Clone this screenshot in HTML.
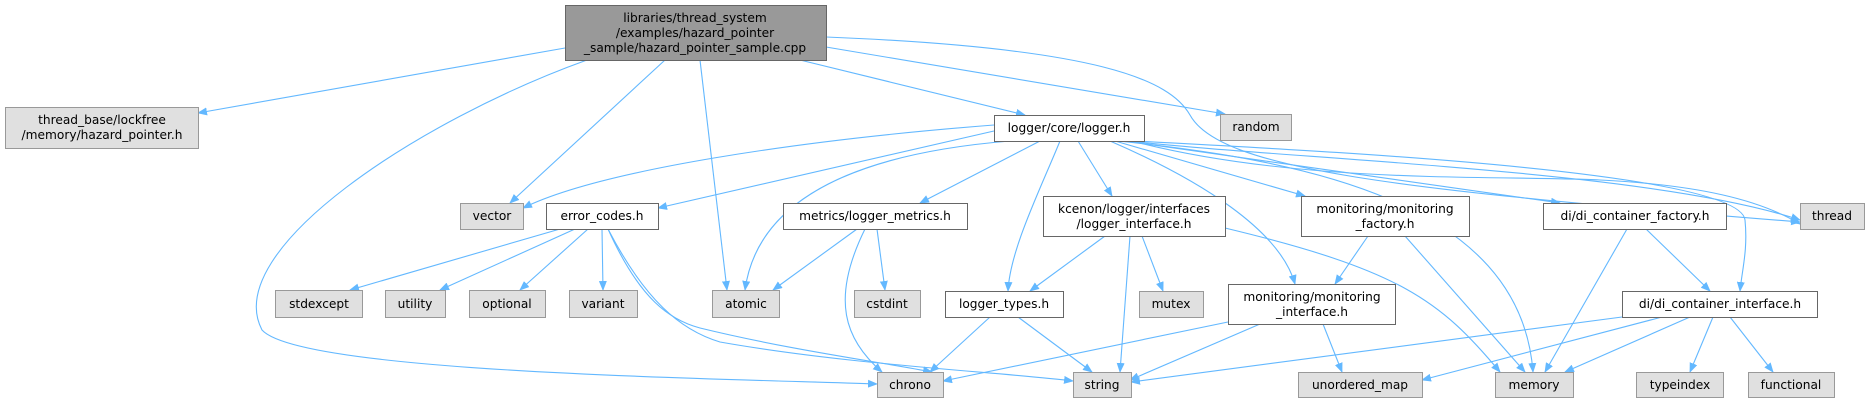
<!DOCTYPE html>
<html><head><meta charset="utf-8"><style>
html,body{margin:0;padding:0;background:#fff;}
svg{display:block;}
text{font-family:"DejaVu Sans","Liberation Sans",sans-serif;font-size:12.2px;fill:#000;text-anchor:middle;}
.e{fill:none;stroke:#63b8ff;stroke-width:1.1;marker-end:url(#a);}
.w{fill:#fff;stroke:#666;stroke-width:1;}
.g{fill:#e0e0e0;stroke:#999;stroke-width:1;}
.r{fill:#999;stroke:#666;stroke-width:1;}
</style></head><body>
<svg width="1869" height="403" viewBox="0 0 1869 403" xmlns="http://www.w3.org/2000/svg">
<defs><marker id="a" markerWidth="10" markerHeight="8" refX="9" refY="4" orient="auto" markerUnits="userSpaceOnUse"><path d="M0,0 L10,4 L0,8 Z" fill="#63b8ff"/></marker></defs>
<path class="e" d="M565,48 L198,113"/>
<path class="e" d="M587,60 C420,120 220,250 262,330 C300,372 700,378 877,384"/>
<path class="e" d="M665,60 L510,203"/>
<path class="e" d="M700,60 L727,290"/>
<path class="e" d="M800,60 L1025,115"/>
<path class="e" d="M826,47 L1225,114"/>
<path class="e" d="M826,37 C1100,48 1170,80 1190,115 C1220,170 1400,190 1800,222"/>
<path class="e" d="M994,125 C800,140 600,170 523,208"/>
<path class="e" d="M994,131 L658,208"/>
<path class="e" d="M1010,141 C900,150 760,180 745,290"/>
<path class="e" d="M1040,141 L920,203"/>
<path class="e" d="M1060,141 C1040,190 1010,250 1008,291"/>
<path class="e" d="M1078,141 L1112,196"/>
<path class="e" d="M1110,141 C1200,180 1280,230 1295,284"/>
<path class="e" d="M1115,141 L1305,196"/>
<path class="e" d="M1118,141 C1300,160 1520,200 1533,372"/>
<path class="e" d="M1125,141 L1560,203"/>
<path class="e" d="M1128,141 C1300,160 1650,170 1800,220"/>
<path class="e" d="M1132,141 C1300,185 1500,175 1600,180 C1700,185 1760,200 1800,224"/>
<path class="e" d="M1135,141 C1300,150 1740,170 1745,220 C1748,250 1742,270 1740,291"/>
<path class="e" d="M560,229 L350,290"/>
<path class="e" d="M575,229 L440,290"/>
<path class="e" d="M588,229 L520,290"/>
<path class="e" d="M602,229 L603,290"/>
<path class="e" d="M608,229 C640,300 670,320 700,328 C790,350 880,362 932,372"/>
<path class="e" d="M608,229 C645,300 680,330 720,342 C850,365 1000,372 1073,381"/>
<path class="e" d="M857,229 L773,290"/>
<path class="e" d="M865,229 C830,300 845,340 882,372"/>
<path class="e" d="M877,229 L885,290"/>
<path class="e" d="M1105,236 L1030,291"/>
<path class="e" d="M1130,236 L1120,372"/>
<path class="e" d="M1142,236 L1163,291"/>
<path class="e" d="M1225,228 C1400,270 1440,300 1500,372"/>
<path class="e" d="M1368,236 L1335,284"/>
<path class="e" d="M1405,236 L1525,372"/>
<path class="e" d="M1627,229 L1545,372"/>
<path class="e" d="M1646,229 L1710,291"/>
<path class="e" d="M990,317 L930,372"/>
<path class="e" d="M1018,317 L1092,372"/>
<path class="e" d="M1228,322 L943,381"/>
<path class="e" d="M1260,324 L1130,380"/>
<path class="e" d="M1323,324 L1342,372"/>
<path class="e" d="M1622,317 L1131,382"/>
<path class="e" d="M1662,317 L1422,380"/>
<path class="e" d="M1690,317 L1565,372"/>
<path class="e" d="M1713,317 L1690,372"/>
<path class="e" d="M1730,317 L1773,372"/>
<rect class="r" x="565.5" y="5.5" width="261" height="55"/>
<text x="695" y="22">libraries/thread_system</text>
<text x="695" y="37">/examples/hazard_pointer</text>
<text x="695" y="52">_sample/hazard_pointer_sample.cpp</text>
<rect class="g" x="5.5" y="107.5" width="193" height="41"/>
<text x="102" y="124">thread_base/lockfree</text>
<text x="102" y="139">/memory/hazard_pointer.h</text>
<rect class="w" x="994.5" y="115.5" width="150" height="26"/><text x="1069" y="132">logger/core/logger.h</text>
<rect class="g" x="1220.5" y="114.5" width="71" height="26"/><text x="1256" y="131">random</text>
<rect class="g" x="460.5" y="203.5" width="63" height="26"/><text x="492" y="220">vector</text>
<rect class="w" x="546.5" y="203.5" width="112" height="26"/><text x="602" y="220">error_codes.h</text>
<rect class="w" x="783.5" y="203.5" width="184" height="26"/><text x="875" y="220">metrics/logger_metrics.h</text>
<rect class="w" x="1043.5" y="196.5" width="182" height="40"/>
<text x="1134" y="213">kcenon/logger/interfaces</text><text x="1134" y="228">/logger_interface.h</text>
<rect class="w" x="1301.5" y="196.5" width="168" height="40"/>
<text x="1385" y="213">monitoring/monitoring</text><text x="1385" y="228">_factory.h</text>
<rect class="w" x="1543.5" y="203.5" width="183" height="26"/><text x="1635" y="220">di/di_container_factory.h</text>
<rect class="g" x="1800.5" y="203.5" width="64" height="26"/><text x="1832" y="220">thread</text>
<rect class="g" x="275.5" y="290.5" width="87" height="27"/><text x="319" y="308">stdexcept</text>
<rect class="g" x="385.5" y="290.5" width="60" height="27"/><text x="415" y="308">utility</text>
<rect class="g" x="469.5" y="290.5" width="76" height="27"/><text x="507" y="308">optional</text>
<rect class="g" x="569.5" y="290.5" width="68" height="27"/><text x="603" y="308">variant</text>
<rect class="g" x="712.5" y="290.5" width="67" height="27"/><text x="746" y="308">atomic</text>
<rect class="g" x="854.5" y="290.5" width="66" height="27"/><text x="887" y="308">cstdint</text>
<rect class="w" x="945.5" y="291.5" width="118" height="26"/><text x="1004" y="308">logger_types.h</text>
<rect class="g" x="1139.5" y="291.5" width="64" height="26"/><text x="1171" y="308">mutex</text>
<rect class="w" x="1228.5" y="284.5" width="167" height="40"/>
<text x="1312" y="301">monitoring/monitoring</text><text x="1312" y="316">_interface.h</text>
<rect class="w" x="1622.5" y="291.5" width="195" height="26"/><text x="1720" y="308">di/di_container_interface.h</text>
<rect class="g" x="877.5" y="372.5" width="66" height="25"/><text x="910" y="389">chrono</text>
<rect class="g" x="1073.5" y="372.5" width="58" height="25"/><text x="1102" y="389">string</text>
<rect class="g" x="1298.5" y="372.5" width="124" height="25"/><text x="1360" y="389">unordered_map</text>
<rect class="g" x="1495.5" y="372.5" width="78" height="25"/><text x="1534" y="389">memory</text>
<rect class="g" x="1636.5" y="372.5" width="87" height="25"/><text x="1680" y="389">typeindex</text>
<rect class="g" x="1748.5" y="372.5" width="86" height="25"/><text x="1791" y="389">functional</text>
</svg>
</body></html>
